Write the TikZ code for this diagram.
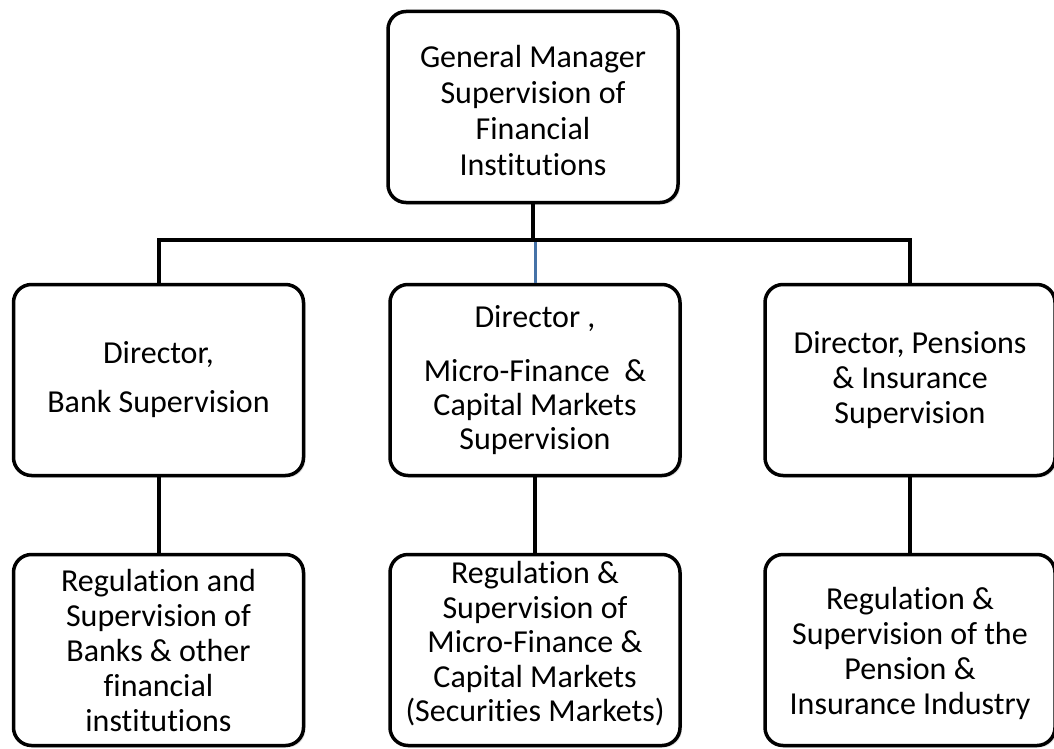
\documentclass[tikz,border=0pt]{standalone}
\usepackage{fontspec}
\setmainfont{Carlito}[Ligatures=NoCommon]
\usetikzlibrary{shadows}
\definecolor{linkblue}{RGB}{69,114,167}
\tikzset{
  orgbox/.style={draw=black, line width=3.5pt, rounded corners=18pt, fill=white,
    align=center, inner sep=0pt, minimum width=290pt, minimum height=191pt,
    drop shadow={opacity=0.25, shadow xshift=2pt, shadow yshift=-2pt},
    font=\fontsize{32}{36}\selectfont},
  boxtext/.style={align=center, inner sep=0pt, font=\fontsize{32}{36}\selectfont},
  link/.style={draw=black, line width=4pt},
  bluelink/.style={draw=linkblue, line width=3pt}
}
\begin{document}
\begin{tikzpicture}[x=1pt,y=-1pt]
\useasboundingbox[fill=white] (0,0) rectangle (1054,749);

\node[orgbox] (gm) at (533,107) {};
\node[boxtext] (gmtext) at ([yshift=-4pt]gm.center) {General Manager\\Supervision of\\Financial\\Institutions};

\node[orgbox] (ml) at (158.5,380) {Director,\\[13pt]Bank Supervision};
\node[orgbox, font=\fontsize{32}{34}\selectfont] (mm) at (535,380) {Director ,\\[20pt]Micro-Finance~ \&\\Capital Markets\\Supervision};
\node[orgbox, font=\fontsize{32}{35}\selectfont] (mr) at (910,380) {Director, Pensions\\\& Insurance\\Supervision};

\node[orgbox, font=\fontsize{32}{35}\selectfont] (bl) at (158.5,650) {Regulation and\\Supervision of\\Banks \& other\\financial\\institutions};
\node[orgbox] (bm) at (535,650) {};
\node[boxtext, font=\fontsize{32}{34.5}\selectfont] (bmtext) at ([yshift=6pt]bm.center) {Regulation \&\\Supervision of\\Micro-Finance \&\\Capital Markets\\(Securities Markets)};
\node[orgbox] (br) at (910,650) {};
\node[boxtext, font=\fontsize{32}{35}\selectfont] (brtext) at ([yshift=-3pt]br.center) {Regulation \&\\Supervision of the\\Pension \&\\Insurance Industry};

\coordinate (bar) at (535,240);
\draw[link] (gm.south) -- (gm.south |- bar);
\draw[link, line cap=rect] (ml.north |- bar) -- (mr.north |- bar);
\draw[link] (ml.north |- bar) -- (ml.north);
\draw[link] (mr.north |- bar) -- (mr.north);
\draw[bluelink] (mm.north |- bar) ++(0,2) -- (mm.north);

\draw[link] (ml.south) -- (bl.north);
\draw[link] (mm.south) -- (bm.north);
\draw[link] (mr.south) -- (br.north);
\end{tikzpicture}
\end{document}
